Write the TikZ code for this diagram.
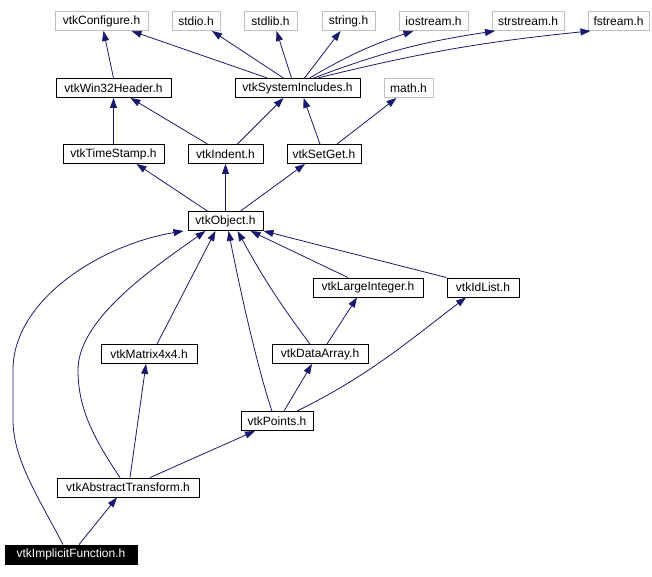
\documentclass[tikz,border=0pt]{standalone}
\usepackage{fontspec}
\setmainfont{Liberation Sans}
\usetikzlibrary{arrows.meta}
\definecolor{edgec}{HTML}{191970}
\definecolor{greyb}{HTML}{BFBFBF}
\tikzset{
  hdr/.style={draw=black, line width=0.9pt, minimum height=19pt, inner sep=0pt, font=\fontsize{12}{14}\selectfont, text=black},
  syshdr/.style={hdr, draw=greyb},
  mainhdr/.style={hdr, fill=black, text=white},
  e/.style={draw=edgec, line width=0.8pt, -{Triangle[length=10pt,width=7pt]}}
}
\begin{document}
\begin{tikzpicture}[x=1pt,y=-1pt]
\useasboundingbox (0,0) rectangle (652,576);
% top row
\node[syshdr, minimum width=93pt] (conf) at (101.5,21) {vtkConfigure.h};
\node[syshdr, minimum width=48pt] (stdio) at (196,21) {stdio.h};
\node[syshdr, minimum width=53pt] (stdlib) at (270.5,21) {stdlib.h};
\node[syshdr, minimum width=53pt] (string) at (348.5,21) {string.h};
\node[syshdr, minimum width=69pt] (iostream) at (433.5,21) {iostream.h};
\node[syshdr, minimum width=72pt] (strstream) at (528,21) {strstream.h};
\node[syshdr, minimum width=61pt] (fstream) at (618.5,21) {fstream.h};
% row 2
\node[hdr, minimum width=115pt] (win) at (113.5,88) {vtkWin32Header.h};
\node[hdr, minimum width=125pt] (sysinc) at (297.5,88) {vtkSystemIncludes.h};
\node[syshdr, minimum width=49pt] (math) at (408.5,88) {math.h};
% row 3
\node[hdr, minimum width=101pt] (ts) at (113.5,154) {vtkTimeStamp.h};
\node[hdr, minimum width=75pt] (indent) at (225.5,154) {vtkIndent.h};
\node[hdr, minimum width=74pt] (setget) at (324,154) {vtkSetGet.h};
% row 4
\node[hdr, minimum width=75pt] (obj) at (225.5,221) {vtkObject.h};
% row 5
\node[hdr, minimum width=110pt] (large) at (368,287.5) {vtkLargeInteger.h};
\node[hdr, minimum width=72pt] (idlist) at (483,287.5) {vtkIdList.h};
% row 6
\node[hdr, minimum width=96pt] (matrix) at (149,354) {vtkMatrix4x4.h};
\node[hdr, minimum width=96pt] (data) at (320,354) {vtkDataArray.h};
% row 7
\node[hdr, minimum width=72pt] (points) at (277,421) {vtkPoints.h};
% row 8
\node[hdr, minimum width=142pt] (abs) at (128,487.5) {vtkAbstractTransform.h};
% row 9
\node[mainhdr, minimum width=132pt] (impl) at (71,554.5) {vtkImplicitFunction.h};

% edges
\draw[e] (win.north) -- ([xshift=2]conf.south);
\draw[e] ([xshift=-30]sysinc.north) -- ([xshift=30]conf.south);
\draw[e] ([xshift=-14]sysinc.north) -- ([xshift=16]stdio.south);
\draw[e] ([xshift=-6]sysinc.north) -- ([xshift=6]stdlib.south);
\draw[e] ([xshift=7]sysinc.north) -- ([xshift=-8]string.south);
\draw[e] ([xshift=12]sysinc.north) to[bend left=6] ([xshift=-20]iostream.south);
\draw[e] ([xshift=16]sysinc.north) to[bend left=6] ([xshift=-33]strstream.south);
\draw[e] ([xshift=20]sysinc.north) to[bend left=4] ([xshift=-28]fstream.south);
\draw[e] (ts.north) -- (win.south);
\draw[e] ([xshift=-18]indent.north) -- ([xshift=17]win.south);
\draw[e] ([xshift=12]indent.north) -- ([xshift=-14]sysinc.south);
\draw[e] ([xshift=-4]setget.north) -- ([xshift=6]sysinc.south);
\draw[e] ([xshift=13]setget.north) -- ([xshift=-12]math.south);
\draw[e] ([xshift=-18]obj.north) -- ([xshift=23]ts.south);
\draw[e] (obj.north) -- (indent.south);
\draw[e] ([xshift=15]obj.north) -- ([xshift=-19]setget.south);
\draw[e] ([xshift=-20]large.north) -- ([xshift=25]obj.south);
\draw[e] (idlist.north west) -- (obj.south east);
\draw[e] ([xshift=8]matrix.north) -- ([xshift=-10]obj.south);
\draw[e] ([xshift=-10]data.north) to[bend left=4] ([xshift=12]obj.south);
\draw[e] ([xshift=7]data.north) -- ([xshift=-11]large.south);
\draw[e] ([xshift=-5]points.north) .. controls (258,370) and (240,290) .. ([xshift=3]obj.south);
\draw[e] ([xshift=7]points.north) -- ([xshift=-8]data.south);
\draw[e] ([xshift=20]points.north) .. controls (370,375) and (410,340) .. ([xshift=-17]idlist.south);
\draw[e] ([xshift=-8]abs.north) .. controls (95,440) and (78,410) .. (78,370) .. controls (78,320) and (150,270) .. ([xshift=-20]obj.south);
\draw[e] ([xshift=2]abs.north) -- ([xshift=-3]matrix.south);
\draw[e] ([xshift=22]abs.north) -- ([xshift=-22]points.south);
\draw[e] ([xshift=-8]impl.north) .. controls (40,500) and (13,460) .. (13,420) -- (13,370) .. controls (13,300) and (100,245) .. ([xshift=-42]obj.south);
\draw[e] ([xshift=8]impl.north) -- ([xshift=-11]abs.south);
\end{tikzpicture}
\end{document}
